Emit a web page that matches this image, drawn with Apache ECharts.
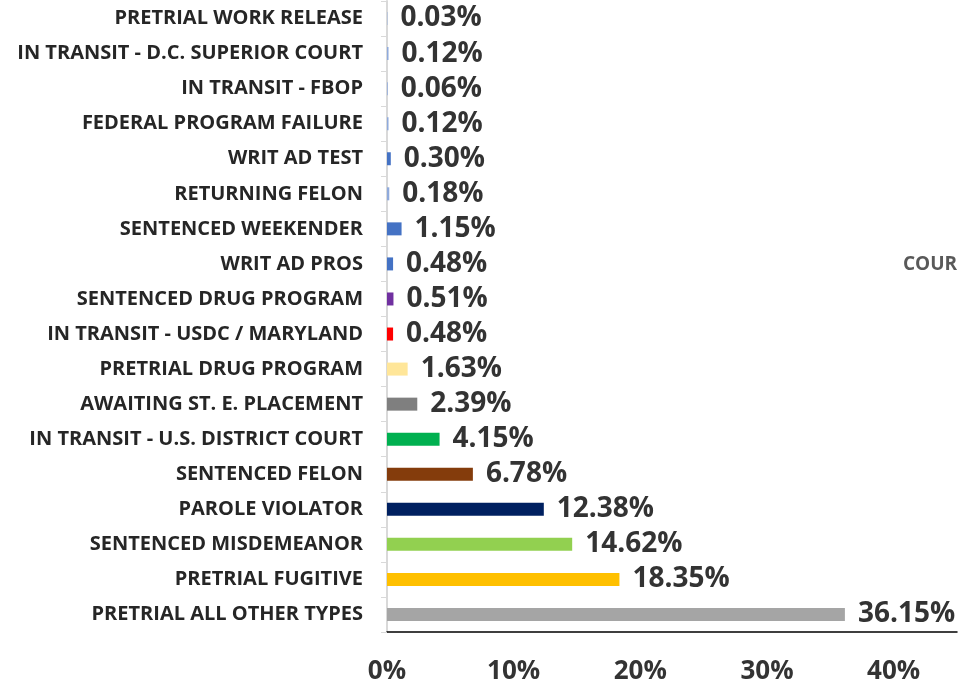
<!DOCTYPE html>
<html style="height: 100%">
<head>
    <meta charset="utf-8">
    <script src="https://cdn.jsdelivr.net/npm/echarts@6/dist/echarts.min.js"></script>
</head>
<body style="height: 100%; margin: 0; background: #fff">
    <div id="container" style="width: 958px; height: 686px"></div>
<script type="text/javascript">
    // bottom to top, as drawn
    var categories = [
        'PRETRIAL ALL OTHER TYPES', 'PRETRIAL FUGITIVE', 'SENTENCED MISDEMEANOR',
        'PAROLE VIOLATOR', 'SENTENCED FELON', 'IN TRANSIT - U.S. DISTRICT COURT',
        'AWAITING ST. E. PLACEMENT', 'PRETRIAL DRUG PROGRAM', 'IN TRANSIT - USDC / MARYLAND',
        'SENTENCED DRUG PROGRAM', 'WRIT AD PROS', 'SENTENCED WEEKENDER',
        'RETURNING FELON', 'WRIT AD TEST', 'FEDERAL PROGRAM FAILURE',
        'IN TRANSIT - FBOP', 'IN TRANSIT - D.C. SUPERIOR COURT', 'PRETRIAL WORK RELEASE'
    ];
    var values = [36.15, 18.35, 14.62, 12.38, 6.78, 4.15, 2.39, 1.63, 0.48,
                  0.51, 0.48, 1.15, 0.18, 0.30, 0.12, 0.06, 0.12, 0.03];
    var barColors = ['#A5A5A5', '#FFC000', '#92D050', '#002060', '#843C0C', '#00B050',
                     '#7F7F7F', '#FFE699', '#FF0000', '#7030A0', '#4472C4', '#4472C4',
                     '#8FAADC', '#4472C4', '#8FAADC', '#8FAADC', '#8FAADC', '#8FAADC'];
    var xTicks = [0, 10, 20, 30, 40];

    var myChart = echarts.init(document.getElementById('container'));
    var data = [];
    for (var i = 0; i < values.length; i++) {
        data.push({value: values[i], itemStyle: {color: barColors[i]}});
    }

    myChart.setOption({
        animation: false,
        grid: {left: 387, right: 1, top: 1, bottom: 54, containLabel: false},
        xAxis: {
            type: 'value',
            min: 0,
            max: 45,
            interval: 10,
            splitLine: {show: false},
            axisTick: {show: false},
            axisLine: {show: true, lineStyle: {color: '#000', width: 1.5}},
            axisLabel: {
                show: true,
                showMaxLabel: false,
                margin: 27,
                fontFamily: 'Open Sans',
                fontWeight: 'bold',
                fontSize: 26,
                color: '#333',
                formatter: function (v) {
                    return xTicks.indexOf(v) >= 0 ? v + '%' : '';
                }
            }
        },
        yAxis: {
            type: 'category',
            data: categories,
            axisLine: {show: true, lineStyle: {color: '#d9d9d9', width: 2}},
            axisTick: {show: true, length: 6, lineStyle: {color: '#d9d9d9'}},
            axisLabel: {
                margin: 24,
                fontFamily: 'Open Sans',
                fontWeight: 'bold',
                fontSize: 20,
                color: '#262626'
            }
        },
        series: [{
            type: 'bar',
            data: data,
            barWidth: 13,
            label: {
                show: true,
                position: 'right',
                distance: 13,
                fontFamily: 'Open Sans',
                fontWeight: 'bold',
                fontSize: 28,
                color: '#333',
                formatter: function (p) { return p.value.toFixed(2) + '%'; }
            }
        }],
        graphic: [{
            type: 'text',
            left: 903,
            top: 255,
            style: {text: 'COUR', fontFamily: 'Open Sans', fontWeight: 'bold', fontSize: 19, fill: '#595959'}
        }]
    });
</script>
</body>
</html>
